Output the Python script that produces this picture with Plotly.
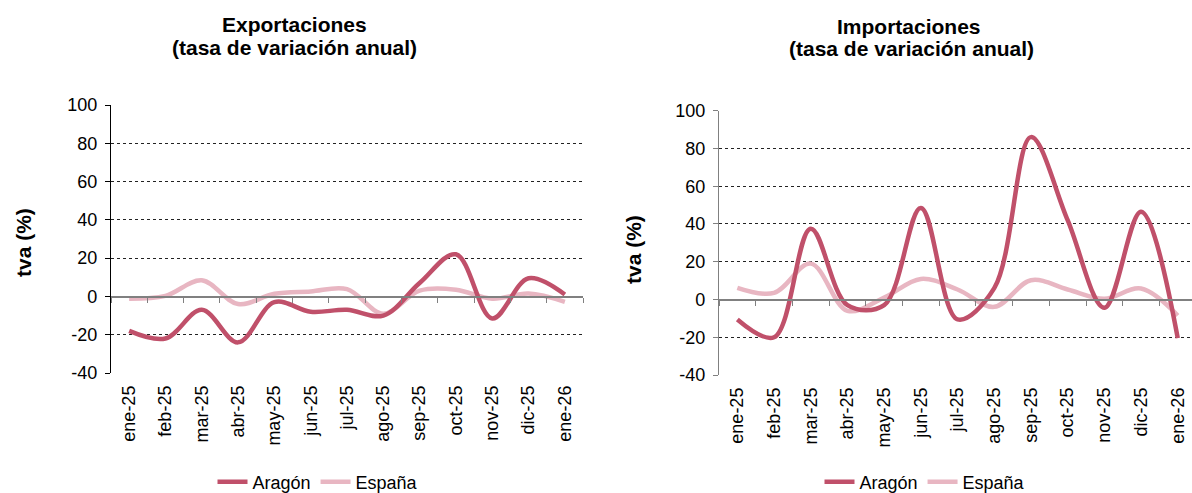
import plotly.graph_objects as go

W, H = 1192, 493

months = ["ene-25", "feb-25", "mar-25", "abr-25", "may-25", "jun-25", "jul-25",
          "ago-25", "sep-25", "oct-25", "nov-25", "dic-25", "ene-26"]

exp_aragon = [-18, -22, -7, -24, -3, -8, -7, -10, 7, 22, -11.5, 9.5, 1]
exp_espana = [-1.2, 0.3, 8.4, -4, 1.4, 2.6, 3.8, -9, 3, 3.5, -1.2, 1.5, -2.8]

imp_aragon = [-10.6, -20, 37.5, -3, -3, 48.5, -10.5, 6, 86, 42, -4.4, 46.5, -20.5]
imp_espana = [6.2, 3.5, 19, -6, 1, 10.9, 5.3, -3.9, 10.2, 5.3, 0.4, 5.8, -8.5]

y_ticks = [-40, -20, 0, 20, 40, 60, 80, 100]
y_ticktext = ["-40", "-20", "0", "20", "40", "60", "80", "100"]

C_AR = "#C0506A"
C_ES = "#E8B6C2"
FONT = "Liberation Sans, Arial, sans-serif"

# plot areas in pixels
L = dict(x0=111, x1=583, top=105, bottom=373)
R = dict(x0=719, x1=1192, top=110.7, bottom=375)
R_range_end = (R["x1"] - R["x0"]) / 36.7 - 0.5


def dom_x(p):
    return [p["x0"] / W, p["x1"] / W]


def dom_y(p):
    return [1 - p["bottom"] / H, 1 - p["top"] / H]


def zero_pos(p):
    d = dom_y(p)
    return d[0] + (0 - y_ticks[0]) / (y_ticks[-1] - y_ticks[0]) * (d[1] - d[0])


fig = go.Figure()


def add_pair(xa, ya, vals_ar, vals_es, legend):
    fig.add_trace(go.Scatter(x=months, y=vals_es, name="España", mode="lines",
                             line=dict(color=C_ES, width=4.5, shape="spline", smoothing=1.0),
                             xaxis=xa, yaxis=ya, legend=legend, legendrank=2))
    fig.add_trace(go.Scatter(x=months, y=vals_ar, name="Aragón", mode="lines",
                             line=dict(color=C_AR, width=4.5, shape="spline", smoothing=1.0),
                             xaxis=xa, yaxis=ya, legend=legend, legendrank=1))


add_pair("x", "y", exp_aragon, exp_espana, "legend")
add_pair("x2", "y2", imp_aragon, imp_espana, "legend2")

# invisible traces to carry the category ticks on the zero-line axes
for xa, ya, vals in (("x3", "y", exp_aragon), ("x4", "y2", imp_aragon)):
    fig.add_trace(go.Scatter(x=months, y=vals, mode="lines", opacity=0,
                             line=dict(width=0), showlegend=False, hoverinfo="skip",
                             xaxis=xa, yaxis=ya))

tickfont = dict(family=FONT, size=18, color="#000000")


def xaxis_main(p, rng):
    return dict(domain=dom_x(p), type="category", range=rng, showgrid=False,
                showline=False, zeroline=False, ticks="", tickangle=-90,
                ticklabelstandoff=8,
                tickfont=tickfont, fixedrange=True, automargin=False)


def xaxis_zero(over, p, rng, col):
    return dict(overlaying=over, anchor="free", position=zero_pos(p), type="category",
                range=rng, showgrid=False, showline=True, linecolor=col, linewidth=1.2,
                ticks="outside", tickson="boundaries", ticklen=5, tickcolor=col,
                showticklabels=False, zeroline=False, automargin=False)


def yaxis(p, anchor, col):
    return dict(domain=dom_y(p), anchor=anchor, range=[y_ticks[0], y_ticks[-1]],
                tickvals=y_ticks, ticktext=y_ticktext,
                showgrid=True, gridcolor="#222222", griddash="dot",
                gridwidth=1, showline=True, linecolor=col, linewidth=1.2,
                ticks="outside", ticklen=5, tickcolor=col, zeroline=False,
                ticklabelstandoff=4,
                tickfont=tickfont, automargin=False)


fig.update_layout(
    width=W, height=H,
    margin=dict(l=0, r=0, t=0, b=0, autoexpand=False),
    paper_bgcolor="white", plot_bgcolor="white",
    font=dict(family=FONT, size=17, color="#000000"),
    xaxis=xaxis_main(L, [-0.5, 12.5]),
    xaxis2=xaxis_main(R, [-0.5, R_range_end]) | dict(anchor="y2"),
    xaxis3=xaxis_zero("x", L, [-0.5, 12.5], "#808080"),
    xaxis4=xaxis_zero("x2", R, [-0.5, R_range_end], "#808080"),
    yaxis=yaxis(L, "x", "#000000"),
    yaxis2=yaxis(R, "x2", "#808080"),
    legend=dict(orientation="h", x=318 / W, y=1 - 482 / H, xanchor="center",
                yanchor="middle", font=dict(family=FONT, size=18), bgcolor="rgba(0,0,0,0)",
                traceorder="normal"),
    legend2=dict(orientation="h", x=925 / W, y=1 - 482 / H, xanchor="center",
                 yanchor="middle", font=dict(family=FONT, size=18), bgcolor="rgba(0,0,0,0)",
                 traceorder="normal"),
    showlegend=True,
)

title_font = dict(family=FONT, size=21, color="#000000")
titles = [
    (294, 25, "<b>Exportaciones</b>"),
    (294, 47, "<b>(tasa de variación anual)</b>"),
    (909, 26, "<b>Importaciones</b>"),
    (911, 48, "<b>(tasa de variación anual)</b>"),
]
for x, y, t in titles:
    fig.add_annotation(x=x / W, y=1 - y / H, xref="paper", yref="paper", text=t,
                       showarrow=False, xanchor="center", yanchor="middle", font=title_font)

for x, y in ((23, 243), (633, 250)):
    fig.add_annotation(x=x / W, y=1 - y / H, xref="paper", yref="paper",
                       text="<b>tva (%)</b>", textangle=-90, showarrow=False,
                       xanchor="center", yanchor="middle", font=title_font)

fig.write_html(
    "out.html",
    config={"displayModeBar": False, "staticPlot": True},
    post_script="document.body.style.margin='0px';"
                "document.documentElement.style.overflow='hidden';"
                "document.body.style.overflow='hidden';",
)
